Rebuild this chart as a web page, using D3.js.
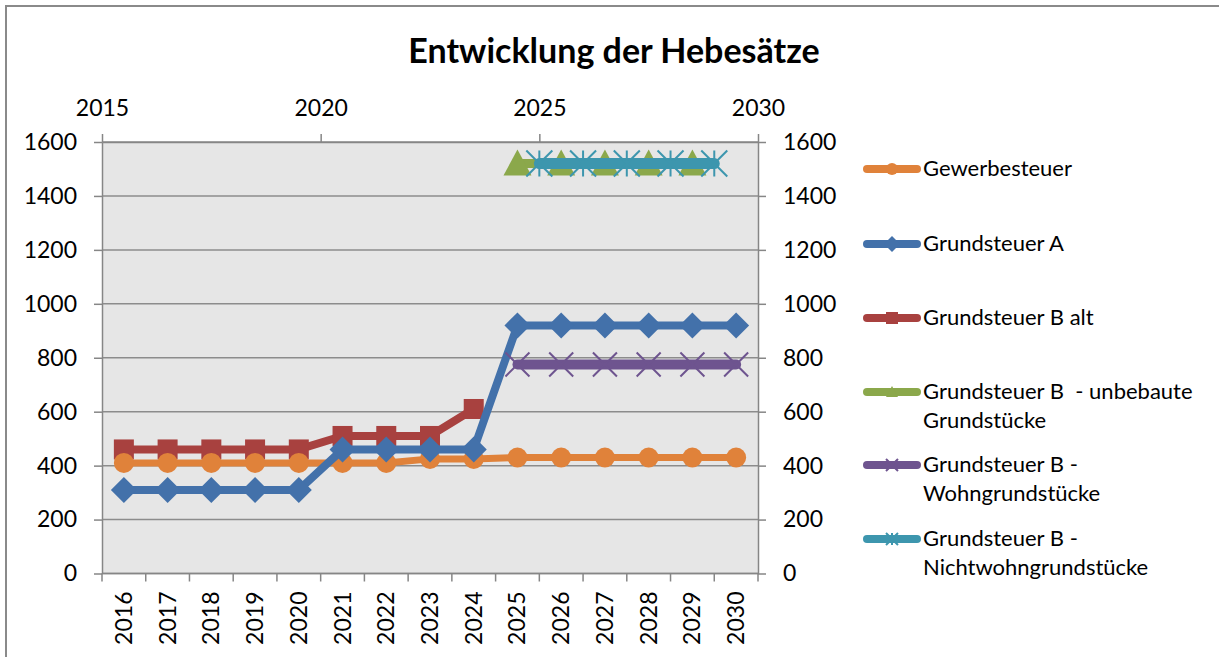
<!DOCTYPE html>
<html>
<head>
<meta charset="utf-8">
<script src="https://cdn.jsdelivr.net/npm/d3@7"></script>
<style>
  body { margin: 0; background: #fff; }
  svg { display: block; font-family: Lato, "Open Sans", sans-serif; }
</style>
</head>
<body>
<svg id="chart" width="1219" height="657"></svg>
<script>
const width = 1219;
const height = 657;

// categories on the bottom axis
const years = ['2016', '2017', '2018', '2019', '2020', '2021', '2022', '2023',
  '2024', '2025', '2026', '2027', '2028', '2029', '2030'];

// primary series (one value per year, null = no value)
const gewerbesteuer = [410, 410, 410, 410, 410, 410, 410, 425, 425, 430, 430, 430, 430, 430, 430];
const grundsteuerA = [310, 310, 310, 310, 310, 460, 460, 460, 460, 920, 920, 920, 920, 920, 920];
const grundsteuerBalt = [460, 460, 460, 460, 460, 510, 510, 510, 610, null, null, null, null, null, null];
const wohngrundstuecke = [null, null, null, null, null, null, null, null, null, 775, 775, 775, 775, 775, 775];

// secondary (top axis) series
const unbebauteX = [2024.5, 2025.5, 2026.5, 2027.5, 2028.5];
const unbebauteY = [1520, 1520, 1520, 1520, 1520];
const nichtwohnX = [2025, 2026, 2027, 2028, 2029];
const nichtwohnY = [1520, 1520, 1520, 1520, 1520];

const yTicks = [0, 200, 400, 600, 800, 1000, 1200, 1400, 1600];
const topTicks = [2015, 2020, 2025, 2030];

const plot = {left: 102, right: 758, top: 142, bottom: 573.5};

const svg = d3.select('#chart');

// chart border
svg.append('rect')
  .attr('x', 6).attr('y', 6)
  .attr('width', 1230).attr('height', 700)
  .attr('fill', '#fff')
  .attr('stroke', '#8a8a8a')
  .attr('stroke-width', 2);

svg.append('text')
  .attr('x', 614).attr('y', 63)
  .attr('text-anchor', 'middle')
  .style('font-size', '34px')
  .style('font-weight', 'bold')
  .text('Entwicklung der Hebesätze');

const x = d3.scaleBand()
  .domain(years)
  .range([plot.left, plot.right]);

const xTop = d3.scaleLinear()
  .domain([2015, 2030])
  .range([plot.left, plot.right]);

const y = d3.scaleLinear()
  .domain([0, 1600])
  .range([plot.bottom, plot.top]);

const cx = (d, i) => x(years[i]) + x.bandwidth() / 2;

// plot area
svg.append('rect')
  .attr('x', plot.left).attr('y', plot.top)
  .attr('width', plot.right - plot.left)
  .attr('height', plot.bottom - plot.top)
  .attr('fill', '#e6e6e6');

// gridlines
svg.append('g')
  .selectAll('line')
  .data(yTicks)
  .join('line')
    .attr('x1', plot.left).attr('x2', plot.right)
    .attr('y1', y).attr('y2', y)
    .attr('stroke', '#8c8c8c')
    .attr('stroke-width', 1.5);

const axisColor = '#868686';
const fontSize = '23px';
const styleAxis = g => {
  g.select('.domain').attr('stroke', axisColor).attr('stroke-width', 1.5);
  g.selectAll('.tick line').attr('stroke', axisColor).attr('stroke-width', 1.5);
  g.selectAll('.tick text').attr('fill', '#000').style('font-size', fontSize).style('font-family', 'Lato, sans-serif');
};

// left axis
svg.append('g')
  .attr('transform', `translate(${plot.left},0)`)
  .call(d3.axisLeft(y).tickValues(yTicks).tickFormat(d3.format('d')).tickSize(8).tickPadding(17).tickSizeOuter(0))
  .call(styleAxis);

// right axis
svg.append('g')
  .attr('transform', `translate(${plot.right},0)`)
  .call(d3.axisRight(y).tickValues(yTicks).tickFormat(d3.format('d')).tickSize(8).tickPadding(17).tickSizeOuter(0))
  .call(styleAxis);

// bottom category axis: ticks at band boundaries
const bottom = svg.append('g')
  .attr('transform', `translate(0,${plot.bottom})`);
bottom.append('line')
  .attr('x1', plot.left).attr('x2', plot.right)
  .attr('stroke', axisColor).attr('stroke-width', 1.5);
bottom.selectAll('.cat-tick')
  .data(years.concat(['end']))
  .join('line')
    .attr('class', 'cat-tick')
    .attr('x1', (d, i) => plot.left + i * x.bandwidth())
    .attr('x2', (d, i) => plot.left + i * x.bandwidth())
    .attr('y1', 0).attr('y2', 8)
    .attr('stroke', axisColor).attr('stroke-width', 1.5);
bottom.selectAll('.cat-label')
  .data(years)
  .join('text')
    .attr('class', 'cat-label')
    .attr('transform', d => `translate(${x(d) + x.bandwidth() / 2 + 8},${18}) rotate(-90)`)
    .attr('text-anchor', 'end')
    .style('font-size', fontSize)
    .text(d => d);

// top value axis
svg.append('g')
  .attr('transform', `translate(0,${plot.top})`)
  .call(d3.axisTop(xTop).tickValues(topTicks).tickFormat(d3.format('d')).tickSize(8).tickPadding(18).tickSizeOuter(0))
  .call(styleAxis);

// marker shapes
const diamond = s => `M0,${-s}L${s},0L0,${s}L${-s},0Z`;
const triangle = s => `M0,${-s}L${s},${s * 0.85}L${-s},${s * 0.85}Z`;
const cross = s => `M${-s},${-s}L${s},${s}M${-s},${s}L${s},${-s}`;
const star = s => `M${-s},${-s}L${s},${s}M${-s},${s}L${s},${-s}M0,${-s}L0,${s}`;

const series = [
  {name: 'Gewerbesteuer', color: '#e0823a', width: 7, values: gewerbesteuer, marker: 'circle', size: 10},
  {name: 'Grundsteuer A', color: '#4371aa', width: 8, values: grundsteuerA, marker: 'diamond', size: 13},
  {name: 'Grundsteuer B alt', color: '#a8413f', width: 8, values: grundsteuerBalt, marker: 'square', size: 10},
  {name: 'Grundsteuer B  - unbebaute|Grundstücke', color: '#8ba84b', width: 9, xs: unbebauteX, values: unbebauteY, marker: 'triangle', size: 14},
  {name: 'Grundsteuer B -|Wohngrundstücke', color: '#6e548f', width: 10, values: wohngrundstuecke, marker: 'cross', size: 12},
  {name: 'Grundsteuer B -|Nichtwohngrundstücke', color: '#3d96ae', width: 11, xs: nichtwohnX, values: nichtwohnY, marker: 'star', size: 13}
];

const posX = s => (d, i) => s.xs ? xTop(s.xs[i]) : cx(d, i);

const drawMarker = (g, s, px, py, size) => {
  if (s.marker === 'circle') {
    g.append('circle').attr('cx', px).attr('cy', py).attr('r', size).attr('fill', s.color);
  } else if (s.marker === 'square') {
    g.append('rect').attr('x', px - size).attr('y', py - size)
      .attr('width', size * 2).attr('height', size * 2).attr('fill', s.color);
  } else if (s.marker === 'diamond') {
    g.append('path').attr('transform', `translate(${px},${py})`).attr('d', diamond(size)).attr('fill', s.color);
  } else if (s.marker === 'triangle') {
    g.append('path').attr('transform', `translate(${px},${py})`).attr('d', triangle(size)).attr('fill', s.color);
  } else if (s.marker === 'cross') {
    g.append('path').attr('transform', `translate(${px},${py})`).attr('d', cross(size))
      .attr('stroke', s.color).attr('stroke-width', 2).attr('fill', 'none');
  } else {
    g.append('path').attr('transform', `translate(${px},${py})`).attr('d', star(size))
      .attr('stroke', s.color).attr('stroke-width', 2).attr('fill', 'none');
  }
};

// draw order so overlaps look like the original
const drawOrder = [2, 0, 1, 4, 3, 5];
const marks = svg.append('g');
drawOrder.forEach(k => {
  const s = series[k];
  const g = marks.append('g');
  const fx = posX(s);
  const line = d3.line()
    .defined(d => d != null)
    .x(fx)
    .y(d => y(d));
  g.append('path')
    .attr('d', line(s.values))
    .attr('fill', 'none')
    .attr('stroke', s.color)
    .attr('stroke-width', s.width)
    .attr('stroke-linejoin', 'round')
    .attr('stroke-linecap', 'round');
  s.values.forEach((d, i) => {
    if (d == null) return;
    drawMarker(g, s, fx(d, i), y(d), s.size);
  });
});

// legend
const legendRows = [169, 244, 318, 392, 465, 539];
const legend = svg.append('g');
series.forEach((s, k) => {
  const ly = legendRows[k];
  const g = legend.append('g');
  g.append('line')
    .attr('x1', 867).attr('x2', 917)
    .attr('y1', ly).attr('y2', ly)
    .attr('stroke', s.color)
    .attr('stroke-width', 8)
    .attr('stroke-linecap', 'round');
  drawMarker(g, s, 892, ly, s.marker === 'diamond' ? 8 : 6);
  const t = g.append('text')
    .attr('x', 923).attr('y', ly + 7)
    .style('font-size', '22px');
  s.name.split('|').forEach((part, j) => {
    t.append('tspan')
      .attr('x', 923)
      .attr('dy', j === 0 ? 0 : 29)
      .attr('xml:space', 'preserve')
      .text(part);
  });
});
</script>
</body>
</html>
